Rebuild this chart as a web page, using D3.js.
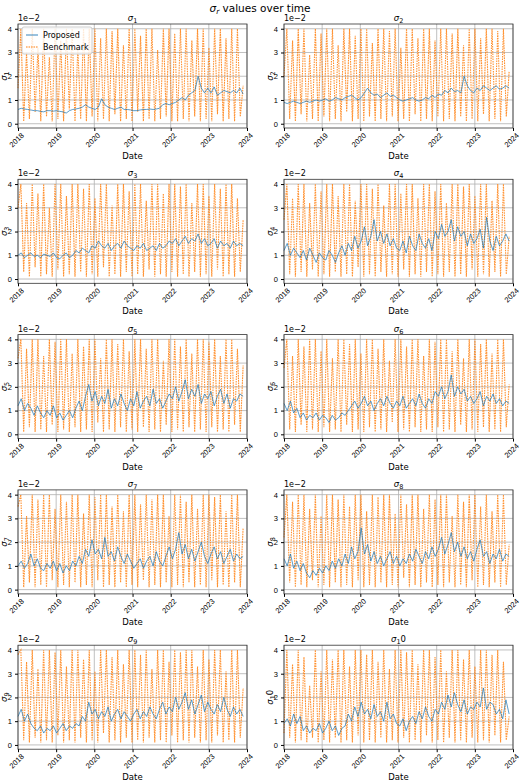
<!DOCTYPE html>
<html><head><meta charset="utf-8">
<script src="https://cdn.jsdelivr.net/npm/d3@7"></script>
<style>body{margin:0;background:#fff}svg{font-family:"DejaVu Sans",sans-serif}</style>
</head><body><svg id="c" width="520" height="783"></svg>
<script>
// Monthly proposed values (units of 1e-2), Jan 2018 .. Nov 2023
const proposed1=[.6,.65,.62,.6,.58,.55,.55,.52,.5,.55,.55,.53,.55,.52,.5,.45,.55,.6,.62,.65,.7,.8,.7,.65,.6,.7,1.05,.8,.7,.65,.6,.65,.7,.6,.6,.58,.55,.55,.58,.6,.6,.62,.6,.62,.65,.8,.85,.8,.85,.9,1.0,1.1,1.0,1.2,1.3,1.4,2.0,1.5,1.3,1.5,1.3,1.55,1.2,1.3,1.4,1.35,1.3,1.4,1.3,1.5,1.25];
const proposed2=[.9,.85,.9,.95,.9,.85,.9,.95,.9,.95,1.0,.95,1.0,1.05,.95,1.0,1.1,1.05,1.0,1.1,1.15,1.2,1.1,1.0,1.1,1.3,1.5,1.3,1.2,1.25,1.1,1.2,1.3,1.15,1.2,1.1,1.0,.95,1.0,1.05,1.1,1.0,.95,1.0,1.1,1.05,1.2,1.1,1.25,1.2,1.4,1.3,1.5,1.35,1.4,1.3,2.0,1.6,1.4,1.3,1.5,1.4,1.6,1.5,1.4,1.5,1.6,1.45,1.5,1.6,1.5];
const proposed3=[1.0,1.1,.9,1.0,1.1,.95,1.0,.9,1.05,1.0,.95,1.1,.9,.85,1.0,1.1,.9,1.0,1.2,1.1,1.3,1.2,1.1,1.4,1.3,1.6,1.4,1.3,1.5,1.2,1.4,1.5,1.3,1.6,1.4,1.3,1.2,1.4,1.3,1.5,1.2,1.3,1.4,1.2,1.5,1.3,1.4,1.6,1.5,1.7,1.4,1.6,1.8,1.5,1.7,1.6,1.9,1.5,1.7,1.4,1.5,1.7,1.3,1.6,1.4,1.5,1.3,1.6,1.4,1.5,1.4];
const proposed4=[1.2,1.5,1.0,1.3,1.1,.9,1.2,.8,1.3,1.0,.7,1.1,.9,.8,1.2,1.0,.7,1.1,1.4,1.0,1.5,1.2,1.8,1.3,1.6,2.2,1.4,1.8,2.5,1.6,2.0,1.5,1.9,1.4,1.7,1.3,1.2,1.6,1.1,1.8,1.4,1.2,1.9,1.5,1.3,1.7,1.2,2.0,1.7,2.3,1.8,2.0,2.5,1.6,2.2,1.8,2.0,1.4,1.9,1.5,1.7,2.1,1.3,2.6,1.6,1.2,1.8,1.4,1.6,1.9,1.6];
const proposed5=[1.2,1.5,1.0,1.3,1.1,.8,1.2,.9,.7,1.0,.8,1.2,.7,.9,.6,.8,1.0,.7,1.1,1.4,1.0,1.6,2.1,1.4,1.8,1.2,1.6,1.3,1.9,1.1,1.5,1.2,1.7,1.3,1.0,1.5,1.2,1.8,1.1,1.4,1.6,1.2,1.9,1.3,1.5,1.1,1.4,1.7,1.5,2.0,1.4,1.8,2.3,1.5,1.9,1.6,2.1,1.3,1.7,1.5,1.8,1.2,1.6,1.9,1.3,1.7,1.1,1.5,1.4,1.7,1.6];
const proposed6=[1.3,1.0,1.4,.9,1.1,.7,.9,.6,.8,.7,.9,.6,.8,.7,.5,.8,.6,.7,.9,.8,1.0,1.2,1.4,1.1,1.3,1.6,1.2,1.4,1.0,1.3,1.5,1.2,1.6,1.3,1.1,1.4,1.2,1.6,1.1,1.3,1.5,1.2,1.7,1.3,1.1,1.5,1.3,1.8,1.6,2.0,1.5,1.8,2.5,1.6,2.0,1.7,1.9,1.4,1.6,1.3,1.5,1.8,1.2,1.6,1.4,1.7,1.3,1.5,1.2,1.4,1.3];
const proposed7=[1.0,1.2,.9,1.1,1.5,1.0,1.3,.9,.8,1.1,.9,1.2,.8,1.1,.7,1.0,.8,1.2,1.0,1.4,1.1,1.7,1.4,2.1,1.5,1.7,1.3,2.2,1.4,1.6,1.2,1.8,1.4,1.1,1.5,1.2,.9,1.1,1.3,.9,1.2,1.4,1.0,1.6,1.2,1.0,1.4,1.8,1.3,1.7,2.4,1.5,1.9,1.3,1.7,1.2,1.6,2.0,1.4,1.1,1.5,1.8,1.3,1.6,1.1,1.4,1.7,1.2,1.5,1.3,1.4];
const proposed8=[1.3,1.0,1.5,.9,1.2,.8,1.1,.7,.5,.8,.6,.9,.7,1.0,.8,1.2,.9,1.3,1.0,1.5,1.1,1.8,1.3,1.6,2.6,1.5,1.9,1.2,1.6,1.1,1.4,1.0,1.3,1.6,1.1,1.4,1.0,1.3,1.1,1.5,1.2,1.7,1.4,1.1,1.6,1.3,1.8,1.4,1.7,2.2,1.5,1.9,2.4,1.6,2.0,1.4,1.8,1.3,1.6,1.2,1.7,2.1,1.4,1.6,1.1,1.5,1.3,1.7,1.2,1.5,1.4];
const proposed9=[1.2,1.5,1.0,1.3,.9,.7,.6,.8,.5,.7,.6,.8,.5,.7,.9,.6,.8,.7,.9,.8,1.2,1.0,1.8,1.3,1.5,1.1,1.4,1.2,1.6,1.0,1.3,1.5,1.1,1.4,1.2,1.0,1.3,1.5,1.1,1.4,1.2,1.6,1.3,1.1,1.5,1.8,1.3,1.6,1.4,2.0,1.5,1.8,2.2,1.5,1.9,1.3,1.7,2.1,1.4,1.8,1.5,1.3,1.7,1.4,2.0,1.5,1.2,1.6,1.3,1.5,1.2];
const proposed10=[.9,1.1,.8,1.3,.9,1.2,.6,.8,.5,.7,.6,.9,.5,.7,1.0,.6,.8,.4,.7,.8,1.3,1.0,1.6,1.2,1.8,1.3,1.5,1.1,1.7,1.2,1.4,1.0,1.8,1.1,1.3,.9,.8,1.1,.6,1.0,1.2,.9,1.4,1.1,1.6,1.2,1.0,1.5,1.3,1.8,1.5,2.1,1.6,2.2,1.7,1.4,1.9,1.3,1.6,1.5,1.8,1.6,2.4,1.5,1.8,1.7,1.3,1.5,1.1,1.9,1.3];
// Benchmark values (units of 1e-2), roughly every 3 weeks
const bench1=[1.5,4,.1,3,.2,4,.5,3.2,.1,4,.3,2.8,.1,4,.2,3.5,.1,4,.6,4,.1,3.2,.2,4,.1,4,.3,4,.1,3.6,.2,4,.1,3.9,.4,4,.1,3.3,.2,4,.1,4,.5,3.7,.1,4,.2,4,.1,3.1,.2,4,.3,4,.1,3.8,.1,4,.2,4,.1,3.5,.3,4,.1,4,.2,3.2,.1,4,.4,4,.1,3.6,.2,4,.1,4,.3,1.6];
const bench2=[2,4,.2,3.5,.1,4,.4,4,.1,2.9,.2,4,.1,3.8,.3,4,.1,4,.2,3.3,.1,4,.5,4,.1,3.7,.2,4,.1,4,.3,3.4,.1,4,.2,4,.1,3.9,.3,4,.1,3.2,.2,4,.1,4,.4,3.6,.1,4,.2,4,.1,3.5,.3,4,.1,4,.2,3.8,.1,4,.3,3.3,.1,4,.2,4,.1,3.6,.4,4,.1,4,.2,3.9,.1,4,.3,2.2];
const bench3=[3,4,.3,3.2,.1,4,.5,3.6,.1,4,.2,3.0,.1,4,.4,4,.1,3.5,.2,4,.1,4,.3,3.8,.1,4,.2,3.4,.1,4,.5,4,.1,3.1,.2,4,.1,4,.3,3.7,.1,4,.2,4,.1,3.3,.4,4,.1,4,.2,3.6,.1,4,.3,4,.1,3.9,.2,4,.1,3.2,.3,4,.1,4,.2,3.5,.1,4,.4,3.8,.1,4,.2,4,.1,3.4,.3,2.5];
const bench4=[2.5,4,.2,3.4,.1,4,.3,4,.1,3.2,.4,4,.1,3.7,.2,4,.1,4,.3,3.5,.1,4,.2,4,.1,3.3,.5,4,.1,4,.2,3.8,.1,4,.3,3.1,.1,4,.2,4,.1,3.6,.4,4,.1,4,.2,3.4,.1,4,.3,4,.1,3.7,.2,4,.1,3.2,.3,4,.1,4,.2,3.9,.1,4,.4,3.5,.1,4,.2,4,.1,3.3,.3,4,.1,4,.2,1.8];
const bench5=[3.2,4,.1,3.6,.3,4,.1,4,.2,3.3,.1,4,.4,3.9,.1,4,.2,4,.1,3.4,.3,4,.1,3.7,.2,4,.1,4,.5,3.2,.1,4,.2,4,.1,3.8,.3,4,.1,3.5,.2,4,.1,4,.3,3.6,.1,4,.2,4,.1,3.1,.4,4,.1,4,.2,3.7,.1,4,.3,3.4,.1,4,.2,4,.1,3.9,.3,4,.1,3.3,.2,4,.1,4,.4,3.6,.1,2.9];
const bench6=[2.8,4,.2,3.3,.1,4,.4,3.7,.1,4,.2,4,.1,3.5,.3,4,.1,3.2,.2,4,.1,4,.4,3.8,.1,4,.2,3.4,.1,4,.3,4,.1,3.6,.2,4,.1,3.1,.5,4,.1,4,.2,3.7,.1,4,.3,4,.1,3.3,.2,4,.1,3.9,.3,4,.1,4,.2,3.5,.1,4,.4,3.2,.1,4,.2,4,.1,3.8,.3,4,.1,3.4,.2,4,.1,4,.3,2.1];
const bench7=[3.5,4,.1,3.1,.3,4,.1,3.8,.2,4,.1,4,.4,3.4,.1,4,.2,3.7,.1,4,.3,4,.1,3.2,.2,4,.1,3.9,.4,4,.1,4,.2,3.5,.1,4,.3,3.3,.1,4,.2,4,.1,3.6,.4,4,.1,3.8,.2,4,.1,4,.3,3.1,.1,4,.2,4,.1,3.7,.3,4,.1,3.4,.2,4,.1,4,.4,3.9,.1,4,.2,3.3,.1,4,.3,4,.1,2.6];
const bench8=[2.2,4,.3,3.7,.1,4,.2,4,.1,3.4,.4,4,.1,3.1,.2,4,.1,4,.3,3.8,.1,4,.2,3.5,.1,4,.4,4,.1,3.3,.2,4,.1,3.9,.3,4,.1,4,.2,3.2,.1,4,.5,3.6,.1,4,.2,4,.1,3.4,.3,4,.1,3.8,.2,4,.1,4,.3,3.1,.1,4,.2,3.7,.1,4,.4,4,.1,3.5,.2,4,.1,3.3,.3,4,.1,4,.2,1.9];
const bench9=[3.8,4,.2,3.5,.1,4,.3,3.2,.1,4,.2,4,.1,3.9,.4,4,.1,3.3,.2,4,.1,4,.3,3.6,.1,4,.2,3.1,.1,4,.5,4,.1,3.7,.2,4,.1,3.4,.3,4,.1,4,.2,3.8,.1,4,.3,3.2,.1,4,.2,4,.1,3.5,.4,4,.1,3.9,.2,4,.1,4,.3,3.3,.1,4,.2,3.6,.1,4,.4,4,.1,3.1,.2,4,.1,4,.3,2.4];
const bench10=[.5,4,.3,3.4,.1,4,.2,3.7,.1,2.5,.3,4,.1,3.1,.2,4,.1,3.6,.3,4,.1,4,.2,3.3,.1,4,.4,4,.1,3.8,.2,4,.1,3.5,.3,4,.1,3.2,.2,4,.1,4,.3,3.9,.1,4,.2,3.4,.1,4,.4,4,.1,3.7,.2,4,.1,3.1,.3,4,.1,4,.2,3.6,.1,4,.3,3.3,.1,4,.2,4,.1,3.8,.4,4,.1,3.5,.2,1.2];
const proposed=[proposed1,proposed2,proposed3,proposed4,proposed5,proposed6,proposed7,proposed8,proposed9,proposed10];
const bench=[bench1,bench2,bench3,bench4,bench5,bench6,bench7,bench8,bench9,bench10];
const subs=["1","2","3","4","5","6","7","8","9","1"];
const yTicks=[0,1,2,3,4];
const xTicks=[2018,2019,2020,2021,2022,2023,2024];

const svg=d3.select("#c");
const t0=new Date(2018,0,1), tEnd=new Date(2023,10,25);
svg.append("text").attr("x",260).attr("y",12).attr("text-anchor","middle").attr("font-size",10.5)
  .html('<tspan font-style="italic">σ</tspan><tspan font-style="italic" font-size="7.5" dy="2">r</tspan><tspan dy="-2"> values over time</tspan>');

proposed.forEach((pv,i)=>{
  const col=i%2,row=Math.floor(i/2);
  const L=col?284:18, R=col?513:247, T=24+row*155.3, B=T+104;
  const x=d3.scaleTime().domain([new Date(2018,0,1),new Date(2024,0,1)]).range([L,R]);
  const y=d3.scaleLinear().domain([-0.18,4.2]).range([B,T]);
  const g=svg.append("g");
  xTicks.forEach(yr=>g.append("line").attr("x1",x(new Date(yr,0,1))).attr("x2",x(new Date(yr,0,1))).attr("y1",T).attr("y2",B).attr("stroke","#b0b0b0").attr("stroke-width",0.8));
  yTicks.forEach(v=>g.append("line").attr("x1",L).attr("x2",R).attr("y1",y(v)).attr("y2",y(v)).attr("stroke","#b0b0b0").attr("stroke-width",0.8));
  const bx=d3.scaleLinear().domain([0,bench[i].length-1]).range([+t0,+tEnd]);
  const px=d3.scaleLinear().domain([0,pv.length-1]).range([+t0,+tEnd]);
  g.append("path").datum(bench[i]).attr("fill","none").attr("stroke","#ff7f0e").attr("stroke-opacity",0.85)
    .attr("stroke-width",1.1).attr("stroke-dasharray","1.6,0.9")
    .attr("d",d3.line().x((d,k)=>x(new Date(bx(k)))).y(d=>y(d)));
  g.append("path").datum(pv).attr("fill","none").attr("stroke","#1f77b4").attr("stroke-opacity",0.9).attr("stroke-width",0.8)
    .attr("d",d3.line().x((d,k)=>x(new Date(px(k)))).y(d=>y(d)));
  g.append("rect").attr("x",L).attr("y",T).attr("width",R-L).attr("height",B-T).attr("fill","none").attr("stroke","#333").attr("stroke-width",0.8);
  const ya=g.append("g").attr("transform",`translate(${L},0)`).call(d3.axisLeft(y).tickValues(yTicks).tickSize(3).tickFormat(d3.format("d")));
  const xa=g.append("g").attr("transform",`translate(0,${B})`).call(d3.axisBottom(x).tickValues(xTicks.map(v=>new Date(v,0,1))).tickSize(3).tickFormat(d3.timeFormat("%Y")));
  [ya,xa].forEach(a=>{a.select(".domain").remove();a.selectAll("text").attr("font-size",7.5).attr("fill","#000");});
  xa.selectAll("text").attr("text-anchor","end").attr("dx","-0.2em").attr("dy","0.5em").attr("transform","rotate(-45)");
  g.append("text").attr("x",L).attr("y",T-3).attr("font-size",8).text("1e−2");
  const lab=i==9?'<tspan font-style="italic">σ</tspan><tspan font-size="6.5" dy="2">1</tspan><tspan dy="-2">0</tspan>'
    :`<tspan font-style="italic">σ</tspan><tspan font-size="6.5" dy="2">${subs[i]}</tspan>`;
  g.append("text").attr("x",(L+R)/2).attr("y",T-3).attr("text-anchor","middle").attr("font-size",8.5).html(lab);
  g.append("text").attr("transform",`translate(${L-11},${(T+B)/2}) rotate(-90)`).attr("text-anchor","middle").attr("font-size",8.5).html(lab);
  g.append("text").attr("x",(L+R)/2).attr("y",B+31).attr("text-anchor","middle").attr("font-size",8.5).text("Date");
  if(i==0){
    const lg=g.append("g");
    lg.append("rect").attr("x",L+4).attr("y",T+3).attr("width",70).attr("height",27).attr("rx",2).attr("fill","#fff").attr("fill-opacity",0.8).attr("stroke","#ccc");
    lg.append("line").attr("x1",L+8).attr("x2",L+20).attr("y1",T+11).attr("y2",T+11).attr("stroke","#1f77b4").attr("stroke-width",0.9);
    lg.append("line").attr("x1",L+8).attr("x2",L+20).attr("y1",T+23).attr("y2",T+23).attr("stroke","#ff7f0e").attr("stroke-dasharray","1.6,0.9");
    lg.append("text").attr("x",L+25).attr("y",T+14).attr("font-size",8).text("Proposed");
    lg.append("text").attr("x",L+25).attr("y",T+26).attr("font-size",8).text("Benchmark");
  }
});
</script></body></html>
